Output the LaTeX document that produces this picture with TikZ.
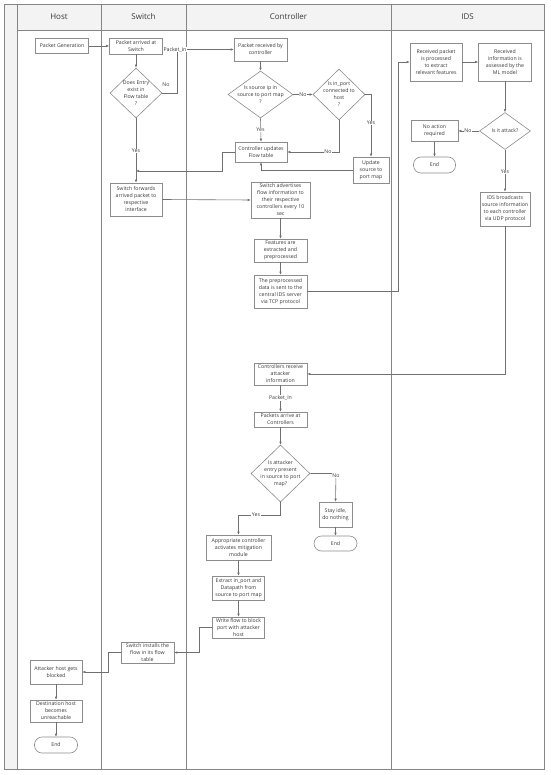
\documentclass[tikz,border=0pt]{standalone}
\usepackage{fontspec}
\setmainfont{Open Sans}
\usetikzlibrary{arrows.meta,shapes.geometric}
\definecolor{ln}{HTML}{707070}
\definecolor{bx}{HTML}{8C8C8C}
\definecolor{tx}{HTML}{3A3A3A}
\definecolor{hd}{HTML}{F3F3F3}
\definecolor{fr}{HTML}{858585}
\begin{document}
\begin{tikzpicture}[x=1pt,y=-1pt,
  every node/.style={font=\fontsize{5.2}{7}\selectfont, text=tx},
  box/.style={draw=bx, line width=0.6pt, fill=white, rectangle, align=center, inner sep=0pt},
  dec/.style={diamond, draw=bx, line width=0.6pt, fill=white, align=center, inner sep=-10pt},
  term/.style={draw=bx, line width=0.6pt, fill=white, rectangle, rounded corners=7.5pt, align=center, inner sep=0pt},
  arr/.style={draw=ln, line width=0.6pt, -{Latex[length=3pt,width=2.6pt]}},
  lbl/.style={fill=white, inner sep=0.6pt},
  frame/.style={draw=fr, line width=0.8pt},
  hdr/.style={font=\fontsize{8}{9}\selectfont, text=tx}
]
\useasboundingbox (0,0) rectangle (550,775);
% frame and lanes
\fill[hd] (4,4) rectangle (17,769);
\fill[hd] (17,4) rectangle (544,30);
\draw[frame] (4,4) rectangle (544,769);
\draw[frame] (17,4) -- (17,769);
\draw[frame] (17,30) -- (544,30);
\draw[frame] (101,4) -- (101,769);
\draw[frame] (186,4) -- (186,769);
\draw[frame] (391,4) -- (391,769);
\node[hdr] (hhost) at (59,17) {Host};
\node[hdr] (hsw) at (143.5,17) {Switch};
\node[hdr] (hctl) at (288.5,17) {Controller};
\node[hdr] (hids) at (467.5,17) {IDS};

% Host / Switch top
\node[box, minimum width=53pt, minimum height=15pt] (pg) at (62,46) {Packet Generation};
\node[box, minimum width=53pt, minimum height=16pt] (pas) at (136,46) {Packet arrived at\\Switch};
\node[dec, minimum width=52pt, minimum height=50pt] (d1) at (136,93) {Does Entry\\exist in\\Flow table\\?};
\node[box, minimum width=52pt, minimum height=33pt] (sf) at (136,199.5) {Switch forwards\\arrived packet to\\respective\\interface};

% Controller top
\node[box, minimum width=53pt, minimum height=23pt] (prc) at (260.5,49.5) {Packet received by\\controller};
\node[dec, minimum width=65pt, minimum height=47pt] (d2) at (260.5,94.5) {Is source ip in\\source to port map\\?};
\node[dec, minimum width=52pt, minimum height=51pt] (d3) at (339,94.5) {Is in\_port\\connected to\\host\\?};
\node[box, minimum width=52pt, minimum height=20pt] (cu) at (261,152) {Controller updates\\Flow table};
\node[box, minimum width=36pt, minimum height=26pt] (us) at (371,170) {Update\\source to\\port map};
\node[box, minimum width=59pt, minimum height=36pt] (sa) at (280.5,200) {Switch advertises\\flow information to\\their respective\\controllers every 10\\sec};
\node[box, minimum width=53pt, minimum height=23pt] (fe) at (280.5,250.5) {Features are\\extracted and\\preprocessed};
\node[box, minimum width=53pt, minimum height=33pt] (tp) at (280.5,291.5) {The preprocessed\\data is sent to the\\central IDS server\\via TCP protocol};

% IDS
\node[box, minimum width=52pt, minimum height=38pt] (rp) at (436,62) {Received packet\\is processed\\to extract\\relevant features};
\node[box, minimum width=53pt, minimum height=38pt] (ml) at (505,62) {Received\\information is\\assessed by the\\ML model};
\node[dec, minimum width=51pt, minimum height=37pt] (ia) at (505,131) {Is it attack?};
\node[box, minimum width=47pt, minimum height=21pt] (na) at (434.5,131) {No action\\required};
\node[term, minimum width=42pt, minimum height=16pt] (e1) at (434.5,165) {End};
\node[box, minimum width=50pt, minimum height=34pt] (ib) at (505,209) {IDS broadcasts\\source information\\to each controller\\via UDP protocol};

% Controller bottom
\node[box, minimum width=53pt, minimum height=22pt] (cr) at (280.5,374) {Controllers receive\\attacker\\information};
\node[box, minimum width=53pt, minimum height=15pt] (pa) at (280.5,419.5) {Packets arrive at\\Controllers};
\node[dec, minimum width=59pt, minimum height=57pt] (d4) at (280.5,473.5) {Is attacker\\entry present\\in source to port\\map?};
\node[box, minimum width=33pt, minimum height=25pt] (si) at (335.5,514.5) {Stay idle,\\do nothing};
\node[term, minimum width=43pt, minimum height=15pt] (e2) at (335.5,543.5) {End};
\node[box, minimum width=65pt, minimum height=25pt] (ac) at (238.5,547.5) {Appropriate controller\\activates mitigation\\module};
\node[box, minimum width=52pt, minimum height=24pt] (ex) at (238.5,588) {Extract in\_port and\\Datapath from\\source to port map};
\node[box, minimum width=52pt, minimum height=21pt] (wf) at (238.5,627.5) {Write flow to block\\port with attacker\\host};

% Switch / Host bottom
\node[box, minimum width=53pt, minimum height=21pt] (swi) at (147.5,652.5) {Switch installs the\\flow in its flow\\table};
\node[box, minimum width=52pt, minimum height=24pt] (ahb) at (56,672) {Attacker host gets\\blocked};
\node[box, minimum width=52pt, minimum height=22pt] (dh) at (56,711) {Destination host\\becomes\\unreachable};
\node[term, minimum width=43pt, minimum height=16pt] (e3) at (56,745) {End};

% coordinates
\coordinate (c1) at (177,93);
\coordinate (c2) at (222,152);
\coordinate (c3) at (222,171);
\coordinate (j1) at (136,171);
\coordinate (c4) at (339,152);
\coordinate (c5) at (371,94.5);
\coordinate (c6) at (398,291.5);
\coordinate (c7) at (398,62);
\coordinate (c8) at (336,473.5);
\coordinate (c9) at (280.5,515);
\coordinate (c10) at (238.5,515);
\coordinate (c11) at (199,627.5);
\coordinate (c12) at (199,652.5);
\coordinate (c13) at (108,652.5);
\coordinate (c14) at (108,672);

% connectors
\draw[arr] (pg) -- (pas);
\draw[arr] (pas) -- (d1);
\draw[arr] (d1.east) -- (c1) |- (prc.west);
\draw[arr] (d1.south) -- (sf.north);
\draw[arr] (cu.west) -- (c2) -- (c3) -- (j1);
\draw[arr] (sf.east) -- (sa.west);
\draw[arr] (prc) -- (d2);
\draw[arr] (d2.east) -- (d3.west);
\draw[arr] (d2.south) -- (cu.north);
\draw[arr] (d3.south) -- (c4) -- (cu.east);
\draw[arr] (d3.east) -- (c5) -- (us.north);
\draw[arr] (us.west) -| (cu.south);
\draw[arr] (sa) -- (fe);
\draw[arr] (fe) -- (tp);
\draw[arr] (tp.east) -- (c6) -- (c7) -- (rp.west);
\draw[arr] (rp) -- (ml);
\draw[arr] (ml.south) -- (ia.north);
\draw[arr] (ia.west) -- (na.east);
\draw[arr] (na) -- (e1);
\draw[arr] (ia.south) -- (ib.north);
\draw[arr] (ib.south) |- (cr.east);
\draw[arr] (cr) -- (pa);
\draw[arr] (pa) -- (d4);
\draw[arr] (d4.east) -- (c8) -- (si.north);
\draw[arr] (si) -- (e2);
\draw[arr] (d4.south) -- (c9) -- (c10) -- (ac.north);
\draw[arr] (ac) -- (ex);
\draw[arr] (ex) -- (wf);
\draw[arr] (wf.west) -- (c11) -- (c12) -- (swi.east);
\draw[arr] (swi.west) -- (c13) -- (c14) -- (ahb.east);
\draw[arr] (ahb) -- (dh);
\draw[arr] (dh) -- (e3);

% labels
\node[lbl] (lpi1) at (175,49.5) {Packet\_In};
\node (lno1) at (166,85) {No};
\node[lbl] (lyes1) at (136,151) {Yes};
\node[lbl] (lno2) at (303,94.5) {No};
\node[lbl] (lyes2) at (260.5,130) {Yes};
\node[lbl] (lno3) at (328,152) {No};
\node[lbl] (lyes3) at (371,123) {Yes};
\node[lbl] (lno4) at (468,131) {No};
\node[lbl] (lyes4) at (505,172) {Yes};
\node[lbl] (lpi2) at (280.5,398) {Packet\_In};
\node[lbl] (lno5) at (336,475.5) {No};
\node[lbl] (lyes5) at (256,515) {Yes};
\end{tikzpicture}
\end{document}
